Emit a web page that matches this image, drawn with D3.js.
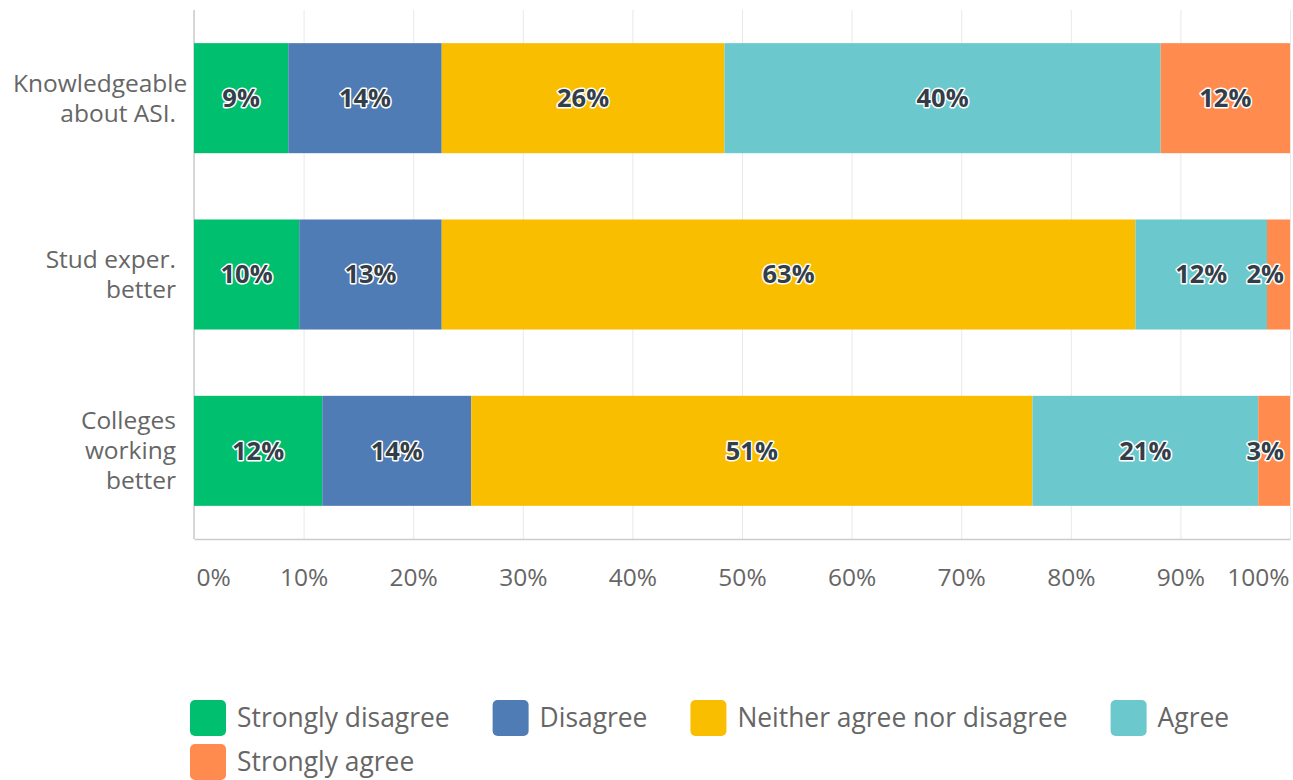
<!DOCTYPE html>
<html>
<head>
<meta charset="utf-8">
<script src="https://cdn.jsdelivr.net/npm/d3@7"></script>
<style>
  html, body { margin: 0; padding: 0; background: #ffffff; }
  svg { display: block; font-family: "Open Sans", "DejaVu Sans", sans-serif; }
</style>
</head>
<body>
<svg id="chart" width="1293" height="780"></svg>
<script>
// Survey questions (rows of the stacked bar chart)
const categories = ["Knowledgeable about ASI.", "Stud exper. better", "Colleges working better"];

// Response options, in stacking order
const seriesNames = ["Strongly disagree", "Disagree", "Neither agree nor disagree", "Agree", "Strongly agree"];

// Share of respondents (%) per question, one array per response option
const stronglyDisagree = [8.6, 9.6, 11.7];
const disagree         = [14.0, 13.0, 13.6];
const neither          = [25.8, 63.3, 51.2];
const agree            = [39.8, 12.0, 20.6];
const stronglyAgree    = [11.8, 2.1, 2.9];

// Colours of the response options
const seriesColors = ["#00bf6f", "#507cb6", "#f9be00", "#6bc8cd", "#ff8b4f"];

// Axis ticks
const tickValues = [0, 10, 20, 30, 40, 50, 60, 70, 80, 90, 100];

const seriesValues = [stronglyDisagree, disagree, neither, agree, stronglyAgree];

// Table for d3.stack: one row per question
const table = categories.map((c, i) => {
  const row = { category: c };
  seriesNames.forEach((s, k) => { row[s] = seriesValues[k][i]; });
  return row;
});

const svg = d3.select("#chart");
const W = 1293;
const plot = { left: 194, right: 1290, top: 10, bottom: 539 };
const FONT = "\"Open Sans\", sans-serif";

const x = d3.scaleLinear().domain([0, 100]).range([plot.left, plot.right]);
const y = d3.scaleBand().domain(categories).range([plot.top, plot.bottom])
  .paddingInner(0.376).paddingOuter(0.188);
const color = d3.scaleOrdinal().domain(seriesNames).range(seriesColors);

// Vertical grid lines
const grid = svg.append("g").attr("transform", `translate(0,${plot.bottom})`)
  .call(d3.axisBottom(x).tickValues(tickValues).tickSize(-(plot.bottom - plot.top)).tickFormat(""));
grid.select(".domain").remove();
grid.selectAll(".tick line").attr("stroke", "#e9e9e9").attr("stroke-width", 1);

// Bottom axis with percent labels
const xAxis = svg.append("g").attr("transform", `translate(0,${plot.bottom})`)
  .call(d3.axisBottom(x).tickValues(tickValues).tickSize(0).tickPadding(42).tickFormat(d => d + "%"));
xAxis.select(".domain").attr("stroke", "#cccccc").attr("stroke-width", 1.5);
xAxis.selectAll(".tick text")
  .attr("fill", "#666666").attr("font-size", 24.5).attr("font-family", FONT)
  .attr("dy", "0.2em");
// Keep the outermost labels inside the plot width
xAxis.selectAll(".tick").each(function(d) {
  const t = d3.select(this).select("text");
  const w = t.node().getComputedTextLength();
  const cx = x(d);
  let shift = 0;
  if (cx - w / 2 < plot.left + 2) shift = plot.left + 2 - (cx - w / 2);
  if (cx + w / 2 > plot.right - 1) shift = (plot.right - 1) - (cx + w / 2);
  t.attr("x", shift);
});

// Left axis line
svg.append("line")
  .attr("x1", plot.left).attr("x2", plot.left)
  .attr("y1", plot.top).attr("y2", plot.bottom)
  .attr("stroke", "#cccccc").attr("stroke-width", 1.5);

// Stacked bars
const stacked = d3.stack().keys(seriesNames)(table);
const layers = svg.append("g").selectAll("g").data(stacked).join("g")
  .attr("fill", d => color(d.key));
layers.selectAll("rect").data(d => d).join("rect")
  .attr("x", d => x(d[0]))
  .attr("y", d => y(d.data.category))
  .attr("width", d => x(d[1]) - x(d[0]))
  .attr("height", y.bandwidth());

// Value labels inside the segments
const labelG = svg.append("g");
stacked.forEach(layer => {
  layer.forEach(d => {
    const v = d[1] - d[0];
    const t = labelG.append("text")
      .text(Math.round(v) + "%")
      .attr("font-size", 25.5).attr("font-weight", 700)
      .attr("font-family", FONT)
      .attr("fill", "#333e48")
      .attr("stroke", "#ffffff").attr("stroke-width", 3).attr("stroke-linejoin", "round")
      .attr("paint-order", "stroke")
      .attr("text-anchor", "middle")
      .attr("dy", "0.35em")
      .attr("y", y(d.data.category) + y.bandwidth() / 2);
    const w = t.node().getComputedTextLength();
    let cx = (x(d[0]) + x(d[1])) / 2;
    cx = Math.min(cx, plot.right - 6 - w / 2);
    cx = Math.max(cx, plot.left + 6 + w / 2);
    t.attr("x", cx);
  });
});

// Category labels, word-wrapped and right aligned against the axis
const catG = svg.append("g");
const maxLabelWidth = 150;
const labelRight = plot.left - 18;
const labelMinLeft = 13;
const lineStep = 30;
categories.forEach(c => {
  const words = c.split(" ");
  const probe = catG.append("text").attr("font-size", 24.5).attr("font-family", FONT);
  const lines = [];
  let cur = "";
  words.forEach(wd => {
    const test = cur ? cur + " " + wd : wd;
    probe.text(test);
    if (cur && probe.node().getComputedTextLength() > maxLabelWidth) {
      lines.push(cur);
      cur = wd;
    } else {
      cur = test;
    }
  });
  if (cur) lines.push(cur);
  probe.remove();
  const cy = y(c) + y.bandwidth() / 2;
  lines.forEach((ln, i) => {
    const t = catG.append("text")
      .text(ln)
      .attr("font-size", 24.5).attr("font-family", FONT)
      .attr("fill", "#666666")
      .attr("dy", "0.35em")
      .attr("y", cy + (i - (lines.length - 1) / 2) * lineStep);
    const w = t.node().getComputedTextLength();
    t.attr("x", Math.max(labelMinLeft, labelRight - w));
  });
});

// Legend, flowing left to right and wrapping to a new row
const legend = svg.append("g");
const legendLeft = 190, legendTop = 700, swatch = 36, rowStep = 44, textGap = 11, itemGap = 43;
let lx = legendLeft, ly = legendTop;
seriesNames.forEach((s, k) => {
  const item = legend.append("g");
  item.append("rect")
    .attr("width", swatch).attr("height", swatch).attr("rx", 5).attr("ry", 5)
    .attr("fill", color(s));
  const t = item.append("text")
    .text(s)
    .attr("x", swatch + textGap).attr("y", swatch / 2)
    .attr("dy", "0.35em")
    .attr("font-size", 26.4).attr("font-family", FONT)
    .attr("fill", "#666666");
  const w = swatch + textGap + t.node().getComputedTextLength();
  if (lx > legendLeft && lx + w > W - 10) {
    lx = legendLeft;
    ly += rowStep;
  }
  item.attr("transform", `translate(${lx},${ly})`);
  lx += w + itemGap;
});
</script>
</body>
</html>
